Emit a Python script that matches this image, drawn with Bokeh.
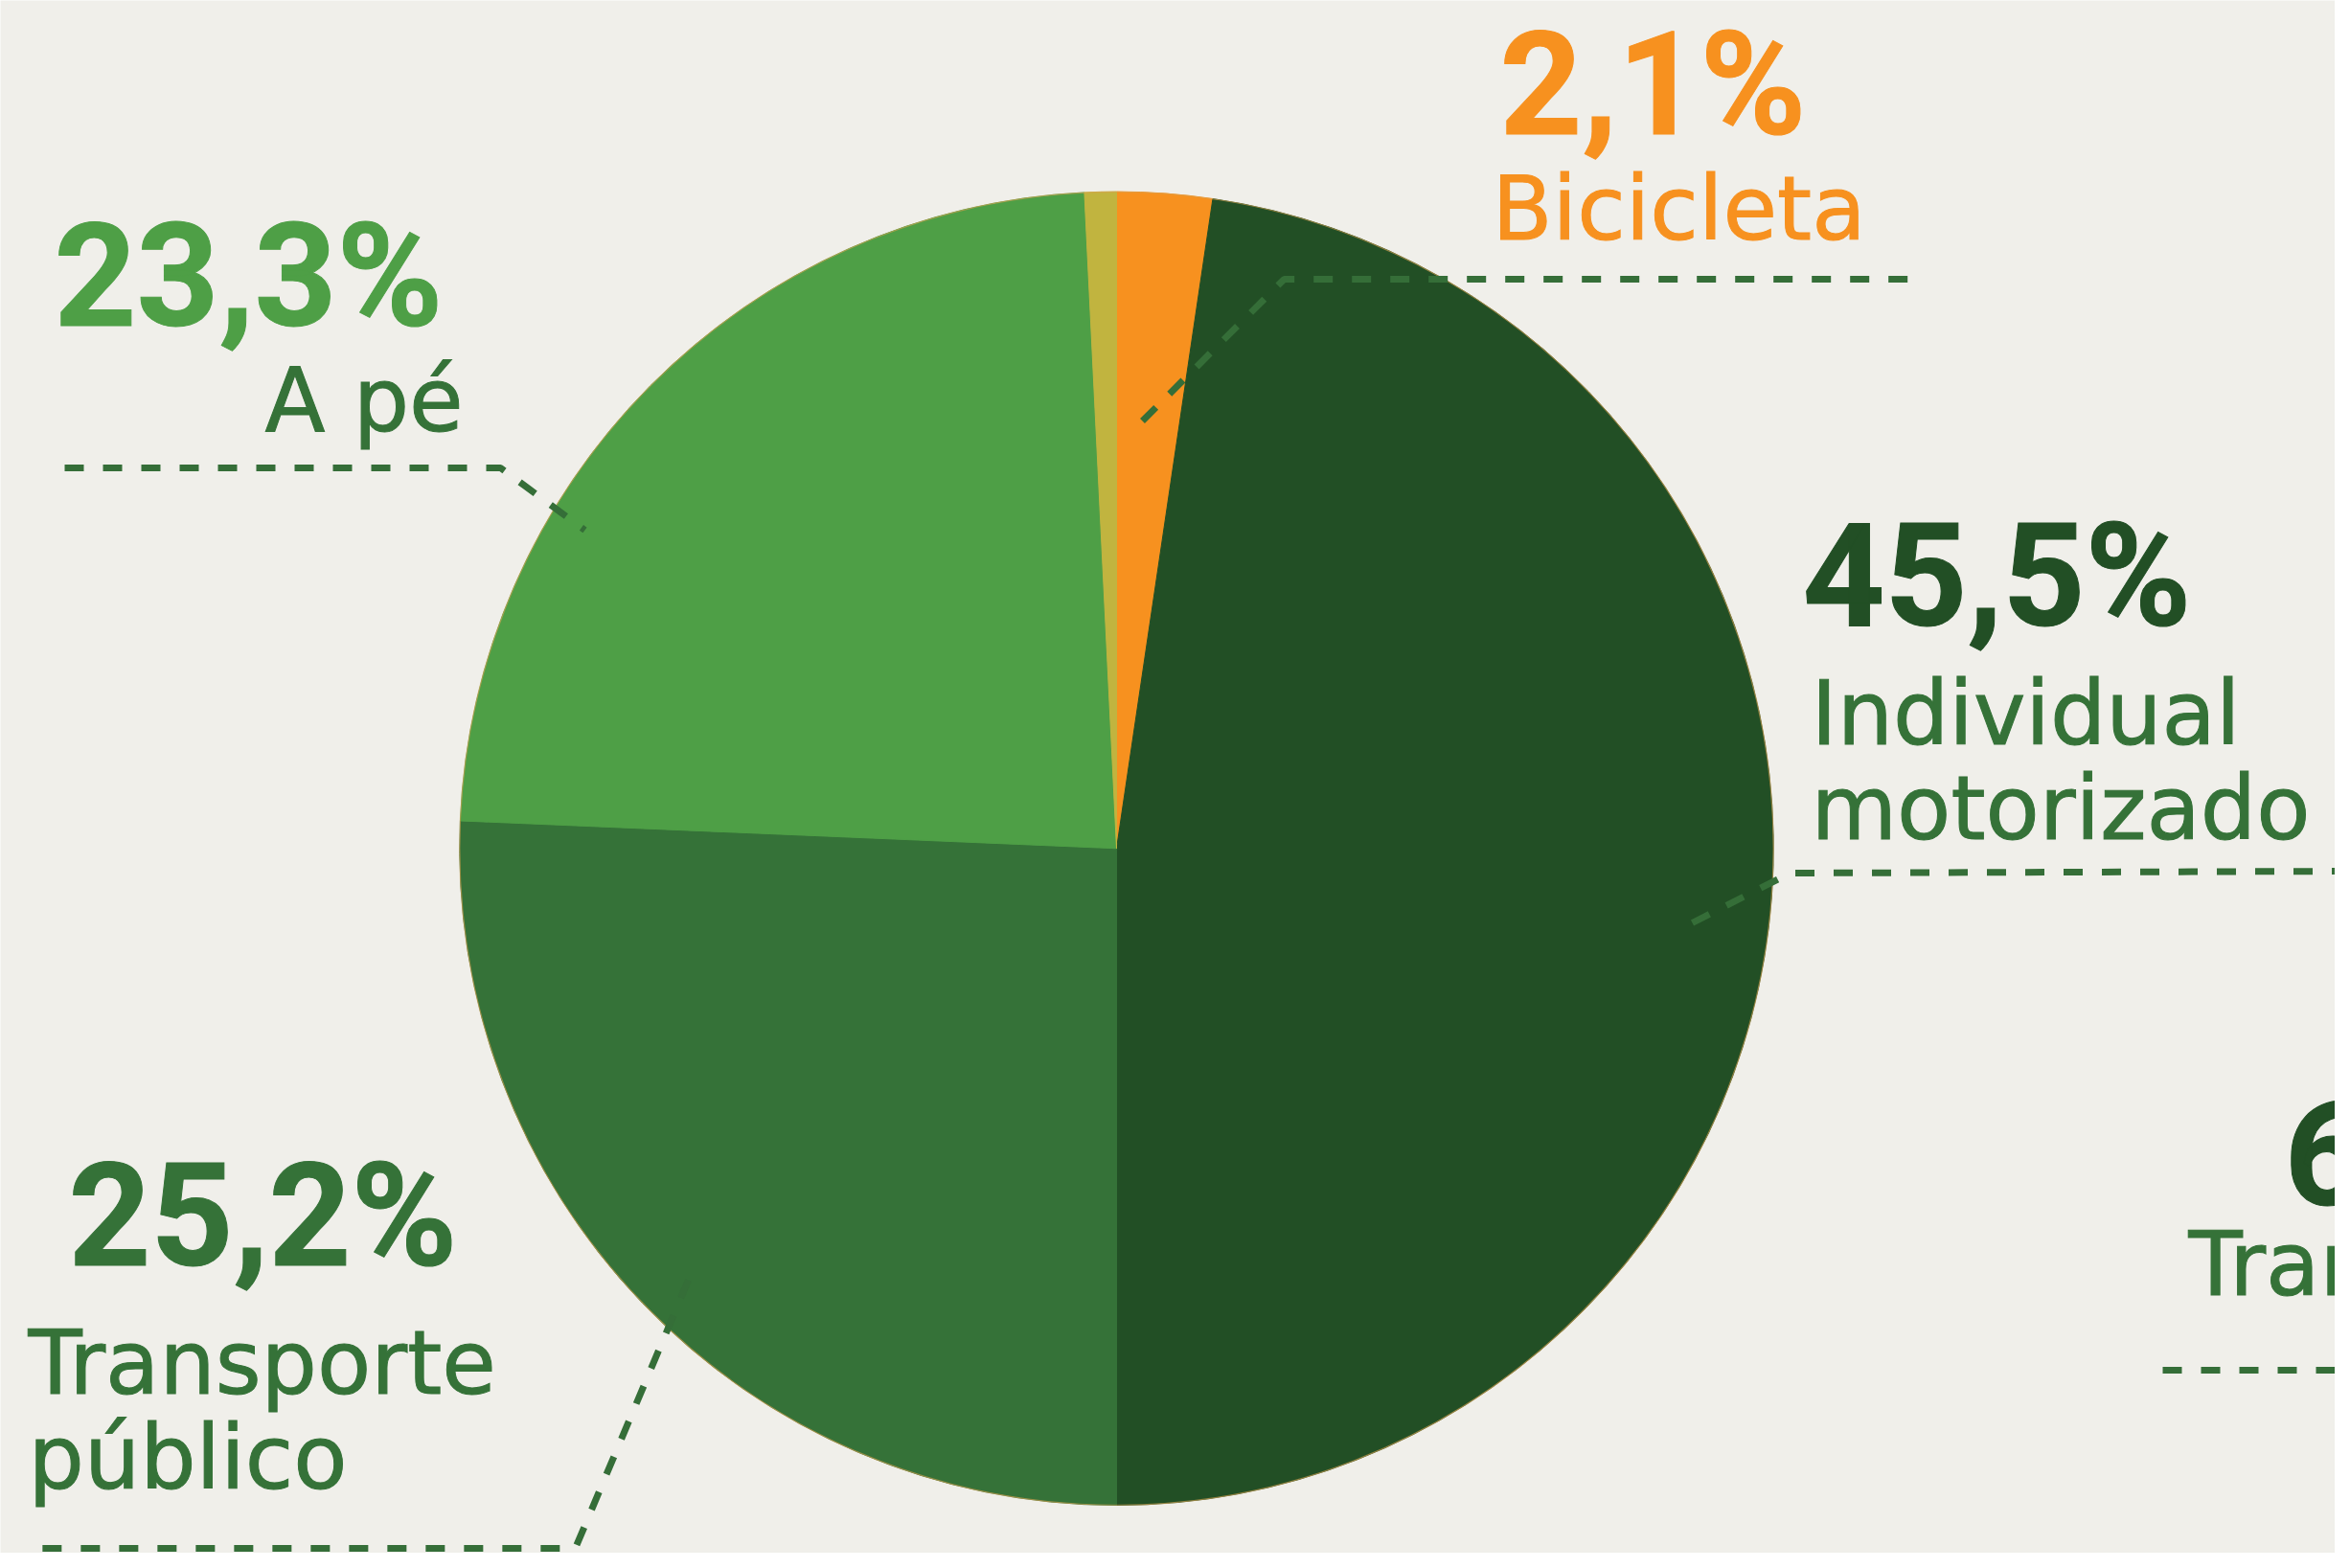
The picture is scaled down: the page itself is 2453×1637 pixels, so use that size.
import numpy as np
from bokeh.plotting import figure
from bokeh.models import Range1d, ColumnDataSource
from bokeh.core.properties import value
from bokeh.embed import file_html
from bokeh.resources import INLINE

# ---------------- data ----------------
# pie slices, clockwise from 12 o'clock
slice_names = ["Bicicleta", "Individual motorizado", "Transporte público", "A pé", "(sem rótulo)"]
slice_shares = [2.34, 47.66, 25.67, 23.55, 0.78]   # share of the circle as drawn
# printed labels
pct_labels = ["2,1%", "45,5%", "25,2%", "23,3%"]
label_lines = [["Bicicleta"], ["Individual", "motorizado"], ["Transporte", "público"], ["A pé"]]
# partly visible label at the right edge (cut off in the source)
cut_pct = "6"
cut_label = "Tran"

# ---------------- style ----------------
BG = "#F0EFEA"
ORANGE = "#F7911F"
DARK = "#224F25"
MID = "#357238"
LIGHT = "#4E9F46"
YELLOW = "#C1B43F"
LINE = "#356E38"
slice_colors = [ORANGE, DARK, MID, LIGHT, YELLOW]

W, H = 2437, 1621
OFF = 2  # observed page offset of the canvas
p = figure(width=W, height=H, x_range=Range1d(OFF, OFF + W), y_range=Range1d(1637 - OFF - H, 1637 - OFF),
           output_backend="svg", toolbar_location=None, min_border=0)
p.xaxis.visible = False
p.yaxis.visible = False
p.xgrid.visible = False
p.ygrid.visible = False
p.outline_line_color = None
p.background_fill_color = BG
p.border_fill_color = BG


def Y(y):
    return 1637 - y


# ---------------- pie ----------------
cx, cy, r = 1167.0, Y(887.3), 685.7
frac = np.array(slice_shares) / np.sum(slice_shares)
cum = np.concatenate([[0.0], np.cumsum(frac)])
src = ColumnDataSource(dict(
    name=slice_names,
    start=np.pi / 2 - cum[:-1] * 2 * np.pi,
    end=np.pi / 2 - cum[1:] * 2 * np.pi,
    color=slice_colors,
))
p.wedge(x=cx, y=cy, radius=r, start_angle="start", end_angle="end", direction="clock",
        fill_color="color", line_color="color", line_width=1, source=src)
p.circle(x=[cx], y=[cy], radius=r, fill_color=None, line_color="#D9A050", line_width=1.2, line_alpha=0.6)

# ---------------- leader lines ----------------
leaders = [
    ([1194, 1342, 2007], [441, 293, 293]),          # Bicicleta
    ([69, 524, 612], [490, 490, 555]),              # A pé
    ([1768, 1870, 2460], [965, 913, 911]),          # Individual motorizado
    ([720, 602, 31], [1338, 1618, 1618]),           # Transporte público
    ([2259, 2460], [1432, 1432]),                   # cut-off label
]
for xs, ys in leaders:
    p.line(xs, [Y(v) for v in ys], line_dash="20 20", line_width=7, line_color=LINE, line_cap="butt")

# ---------------- texts ----------------
PCT_FONT = value("Roboto")
LAB_FONT = value("DejaVu Sans")
PCT_PX = 150
LAB_PX = 92
K_PCT = 0.34   # baseline correction observed for the renderer
K_LAB = 0.34


def ty(baseline, px, k):
    return Y(baseline - k * px)


pct_pos = [(1567, 141, ORANGE), (1883, 654, DARK), (73, 1322, MID), (58, 341, LIGHT)]
lab_pos = [(1559, [251], ORANGE), (1892, [778, 877], MID), (31, [1456, 1555], MID), (278, [451], MID)]

for txt, (x, y, c) in zip(pct_labels, pct_pos):
    p.text(x=[x], y=[ty(y, PCT_PX, K_PCT)], text=[txt], text_font=PCT_FONT, text_font_style="bold",
           text_font_size=f"{PCT_PX}px", text_color=c, text_outline_color=c,
           text_align="left", text_baseline="alphabetic")

for lines, (x, ys, c) in zip(label_lines, lab_pos):
    for t, y in zip(lines, ys):
        p.text(x=[x], y=[ty(y, LAB_PX, K_LAB)], text=[t], text_font=LAB_FONT, text_font_style="normal",
               text_font_size=f"{LAB_PX}px", text_color=c, text_outline_color=c,
               text_align="left", text_baseline="alphabetic")

p.text(x=[2386], y=[ty(1256, PCT_PX, K_PCT)], text=[cut_pct], text_font=PCT_FONT, text_font_style="bold",
       text_font_size=f"{PCT_PX}px", text_color=DARK, text_outline_color=DARK,
       text_align="left", text_baseline="alphabetic")
p.text(x=[2286], y=[ty(1353, LAB_PX, K_LAB)], text=[cut_label], text_font=LAB_FONT, text_font_style="normal",
       text_font_size=f"{LAB_PX}px", text_color=MID, text_outline_color=MID,
       text_align="left", text_baseline="alphabetic")

open("out.html", "w").write(file_html(p, INLINE))
